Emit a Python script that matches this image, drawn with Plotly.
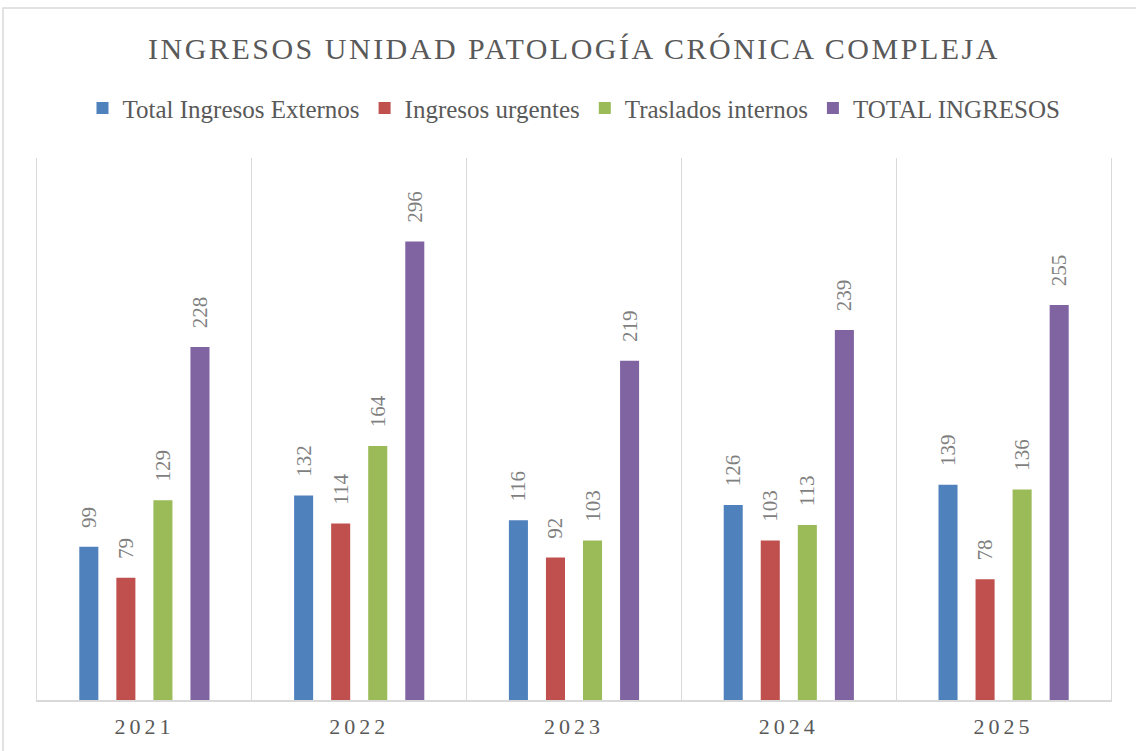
import plotly.graph_objects as go

years = ["2021", "2022", "2023", "2024", "2025"]
series_names = ["Total Ingresos Externos", "Ingresos urgentes", "Traslados internos", "TOTAL INGRESOS"]
externos = [99, 132, 116, 126, 139]
urgentes = [79, 114, 92, 103, 78]
traslados = [129, 164, 103, 113, 136]
total = [228, 296, 219, 239, 255]
colors = ["#4F81BD", "#C0504D", "#9BBB59", "#8064A2"]

FONT = "Liberation Serif"
fig = go.Figure()
for name, vals, col in zip(series_names, [externos, urgentes, traslados, total], colors):
    fig.add_trace(go.Bar(
        x=years, y=vals, name=name, marker=dict(color=col, line=dict(width=0)),
        text=vals, texttemplate="\u00a0\u00a0\u00a0%{text}", textposition="outside",
        textangle=-90, cliponaxis=False, constraintext="none",
        textfont=dict(family=FONT, size=21, color="#7F7F7F"),
    ))

fig.update_layout(
    width=1136, height=751,
    margin=dict(l=37, r=25, t=158, b=51),
    paper_bgcolor="white", plot_bgcolor="white",
    barmode="group", bargap=0.31, bargroupgap=0.486,
    title=dict(text="INGRESOS UNIDAD PATOLOGÍA CRÓNICA COMPLEJA", x=0.5, xref="paper",
               y=1 - 48 / 751, yref="container", xanchor="center", yanchor="middle",
               font=dict(family=FONT, size=30, color="#595959")),
    legend=dict(orientation="h", x=0.5, xanchor="center", y=1.092, yanchor="middle",
                font=dict(family=FONT, size=25, color="#595959"), itemwidth=30,
                traceorder="normal"),
    xaxis=dict(type="category", tickson="boundaries", showgrid=True, gridcolor="#D9D9D9",
               gridwidth=1, showline=True, linecolor="#D9D9D9", linewidth=1.5,
               ticks="", ticklabelstandoff=6,
               tickfont=dict(family=FONT, size=22, color="#595959")),
    yaxis=dict(range=[0, 350], showticklabels=False, showgrid=False, zeroline=False,
               showline=True, mirror=True, linecolor="#D9D9D9", linewidth=1),
    shapes=[dict(type="rect", xref="paper", yref="paper", x0=(3 - 37) / 1074, x1=1.2,
                 y0=-0.3, y1=1 + 150 / 542, line=dict(color="#D9D9D9", width=1.5),
                 fillcolor="rgba(0,0,0,0)", layer="below")],
)

post = """
document.body.style.margin = '0';
document.body.style.padding = '0';
var gd = document.getElementById('{plot_id}');
function ls() {
  gd.querySelectorAll('.gtitle').forEach(function(e){ e.style.letterSpacing = '2.5px'; });
  gd.querySelectorAll('.xtick text').forEach(function(e){ e.style.letterSpacing = '4px'; });
}
ls();
gd.on('plotly_afterplot', ls);
"""
fig.write_html("out.html", post_script=post, config={"displayModeBar": False})
